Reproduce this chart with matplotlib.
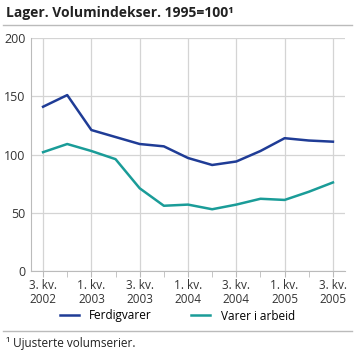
import matplotlib
matplotlib.use("Agg")
import matplotlib.pyplot as plt

plt.rcParams["font.family"] = ["Open Sans", "DejaVu Sans"]

# quarters 2002Q3 .. 2005Q3
quarters = list(range(13))
ferdigvarer = [141, 151, 121, 115, 109, 107, 97, 91, 94, 103, 114, 112, 111]
varer_i_arbeid = [102, 109, 103, 96, 71, 56, 57, 53, 57, 62, 61, 68, 76]
tick_pos = [0, 2, 4, 6, 8, 10, 12]
tick_labels = ["3. kv.\n2002", "1. kv.\n2003", "3. kv.\n2003", "1. kv.\n2004",
               "3. kv.\n2004", "1. kv.\n2005", "3. kv.\n2005"]

blue = "#1f3c96"
teal = "#1a9c98"
grid = "#d4d4d4"

fig = plt.figure(figsize=(3.58, 3.52), dpi=100)
ax = fig.add_axes([31 / 358, 1 - 271 / 352, 314 / 358, 233 / 352])

ax.plot(quarters, ferdigvarer, color=blue, lw=1.8, label="Ferdigvarer")
ax.plot(quarters, varer_i_arbeid, color=teal, lw=1.8, label="Varer i arbeid")

ax.set_xlim(-0.5, 12.5)
ax.set_ylim(0, 200)
ax.set_yticks([0, 50, 100, 150, 200])
ax.set_xticks(tick_pos)
ax.set_xticklabels(tick_labels, fontsize=8.5, color="#333333", linespacing=1.05)
ax.set_xticks([1, 3, 5, 7, 9, 11], minor=True)
ax.tick_params(axis="y", length=0, labelsize=9, colors="#333333", pad=4)
ax.tick_params(axis="x", which="both", length=4, color="#bbbbbb", pad=2)

ax.grid(True, axis="both", which="major", color=grid, lw=0.9)
ax.set_axisbelow(True)
for s in ["top", "right"]:
    ax.spines[s].set_visible(False)
ax.spines["left"].set_color("#bbbbbb")
ax.spines["bottom"].set_color("#bbbbbb")

fig.text(6 / 358, 1 - 13 / 352, "Lager. Volumindekser. 1995=100¹",
         fontsize=10, fontweight="bold", va="center", color="#222222")
fig.add_artist(plt.Line2D([3 / 358, 352 / 358], [1 - 25 / 352, 1 - 25 / 352],
                          color="#bbbbbb", lw=1))
fig.add_artist(plt.Line2D([3 / 358, 352 / 358], [1 - 331 / 352, 1 - 331 / 352],
                          color="#bbbbbb", lw=1))

fig.legend(loc="center", bbox_to_anchor=(0.495, 1 - 316 / 352), ncol=2,
           frameon=False, fontsize=8.5, handlelength=1.6, columnspacing=3.3,
           handletextpad=0.9)

fig.text(6 / 358, 1 - 344 / 352, "¹ Ujusterte volumserier.", fontsize=8.5,
         va="center", color="#222222")

fig.savefig("out.png", dpi=100)
